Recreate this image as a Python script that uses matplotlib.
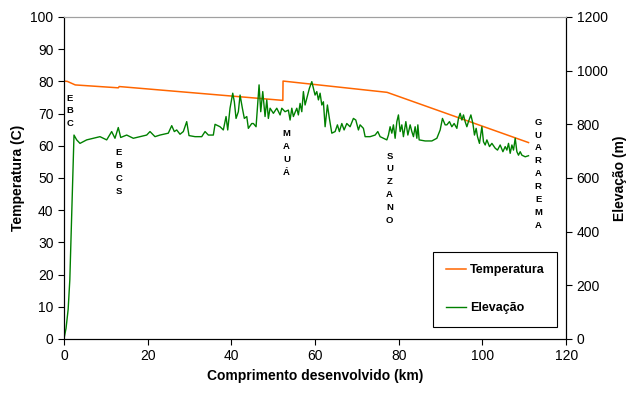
import matplotlib
matplotlib.use('Agg')
import matplotlib.pyplot as plt

plt.rcParams['font.family'] = ['Liberation Sans', 'DejaVu Sans']

# temperature profile (C) along the pipeline
temp_km = [0, 0.8, 2.7, 13.0, 13.2, 52.3, 52.35, 77.2, 111.0]
temp_c = [80.1, 80.0, 78.9, 78.0, 78.4, 74.1, 80.1, 76.6, 61.0]

# elevation profile (m)
elev_km = [0, 0.5, 1.0, 1.4, 2.4, 3.04, 3.83, 5.43, 7.00, 8.61, 10.21, 11.40, 12.19,
           12.98, 13.56, 14.99, 16.57, 18.17, 19.77, 20.56, 21.75, 22.95, 24.93, 25.75,
           26.37, 26.94, 27.73, 28.52, 29.33, 29.88, 31.32, 32.92, 33.71, 34.50, 35.69,
           36.10, 37.29, 38.08, 38.49, 38.73, 39.13, 39.68, 40.33, 40.71, 41.12, 41.67,
           42.08, 42.63, 43.10, 43.68, 44.06, 44.87, 45.26, 45.90, 46.21, 46.62, 47.02,
           47.50, 48.05, 48.46, 48.84, 49.25, 50.04, 50.85, 51.64, 52.05, 52.83, 53.62,
           54.03, 54.44, 54.82, 55.63, 56.01, 56.42, 56.83, 57.21, 57.61, 58.02, 58.64,
           59.22, 59.60, 60.00, 60.41, 60.80, 61.20, 61.61, 61.99, 62.40, 62.95, 63.42,
           64.00, 64.79, 65.34, 65.81, 66.39, 66.94, 67.58, 68.37, 69.16, 69.73, 70.36,
           70.76, 71.55, 71.96, 73.15, 74.35, 74.99, 75.54, 76.33, 77.15, 77.53, 77.93,
           78.34, 78.72, 79.13, 79.54, 79.92, 80.33, 80.73, 81.11, 81.69, 82.17, 82.72,
           83.12, 83.51, 83.91, 84.32, 84.56, 84.87, 86.30, 87.90, 89.10, 89.89, 90.44,
           91.08, 91.49, 92.11, 92.68, 93.23, 93.88, 94.26, 94.67, 95.08, 95.46, 95.86,
           96.27, 96.65, 97.23, 97.71, 98.09, 98.49, 98.81, 99.28, 99.86, 100.24, 100.65,
           101.05, 101.68, 102.25, 103.04, 103.59, 104.23, 104.88, 105.43, 105.83, 106.22,
           106.62, 107.03, 107.41, 107.82, 108.22, 108.61, 109.01, 109.42, 110.21, 111.00]
elev_m = [0, 40, 110, 220, 760, 742, 729, 742, 748, 754, 742, 773, 748,
          788, 751, 760, 748, 754, 760, 773, 754, 760, 767, 795,
          773, 779, 763, 773, 810, 758, 754, 754, 773, 760, 760,
          800, 791, 779, 810, 829, 779, 860, 916, 884, 822, 847,
          909, 860, 822, 829, 785, 803, 803, 791, 860, 947, 847,
          922, 829, 891, 822, 860, 841, 860, 835, 860, 847, 853,
          816, 860, 829, 860, 835, 878, 847, 922, 872, 897, 934,
          959, 934, 909, 922, 891, 916, 872, 884, 791, 872, 822,
          767, 773, 798, 773, 803, 779, 803, 791, 822, 816, 779,
          798, 785, 754, 754, 760, 773, 754, 748, 742, 760, 791,
          767, 798, 748, 810, 835, 773, 798, 754, 810, 760, 798,
          773, 754, 791, 748, 798, 742, 738, 738, 748, 779, 822,
          798, 798, 810, 791, 803, 785, 822, 841, 816, 835, 810,
          791, 810, 835, 803, 760, 785, 754, 729, 791, 735, 723,
          742, 717, 729, 711, 704, 723, 698, 717, 704, 729,
          692, 723, 704, 748, 698, 685, 698, 685, 679, 683]

# station labels (km, top of the label in temperature units)
stations = ['EBC', 'EBCS', 'MAUÁ', 'SUZANO', 'GUARAREMA']
station_km = [1.4, 13.1, 53.2, 77.8, 113.3]
station_top = [76.2, 59.2, 65.2, 58.2, 68.7]

fig = plt.figure(figsize=(6.27, 3.94), dpi=100)
ax = fig.add_axes([0.102, 0.1396, 0.801, 0.8173])
ax2 = ax.twinx()

l1, = ax.plot(temp_km, temp_c, color='#ff6600', lw=1.1, label='Temperatura')
l2, = ax2.plot(elev_km, elev_m, color='#008000', lw=1.0, label='Elevação')

for name, xk, yt in zip(stations, station_km, station_top):
    ax.text(xk, yt, '\n'.join(name), ha='center', va='top', fontsize=6.8,
            fontweight='bold', linespacing=1.55)

ax.set_xlim(0, 120)
ax.set_ylim(0, 100)
ax2.set_ylim(0, 1200)
ax.set_xticks(range(0, 121, 20))
ax.set_yticks(range(0, 101, 10))
ax2.set_yticks(range(0, 1201, 200))

ax.set_xlabel('Comprimento desenvolvido (km)', fontsize=10, fontweight='bold')
ax.set_ylabel('Temperatura (C)', fontsize=10, fontweight='bold')
ax2.set_ylabel('Elevação (m)', fontsize=10, fontweight='bold')

for a in (ax, ax2):
    a.tick_params(labelsize=10, direction='out', length=4)
    a.spines['top'].set_color('#a0a0a0')

leg = ax2.legend([l1, l2], ['Temperatura', 'Elevação'], loc='lower right',
                 bbox_to_anchor=(0.994, 0.018), fancybox=False, edgecolor='black',
                 framealpha=1, labelspacing=2.1, handlelength=1.6, handletextpad=0.3,
                 borderpad=1.0, prop={'weight': 'bold', 'size': 9})
leg.get_frame().set_linewidth(0.8)

fig.savefig('out.png', dpi=100)
